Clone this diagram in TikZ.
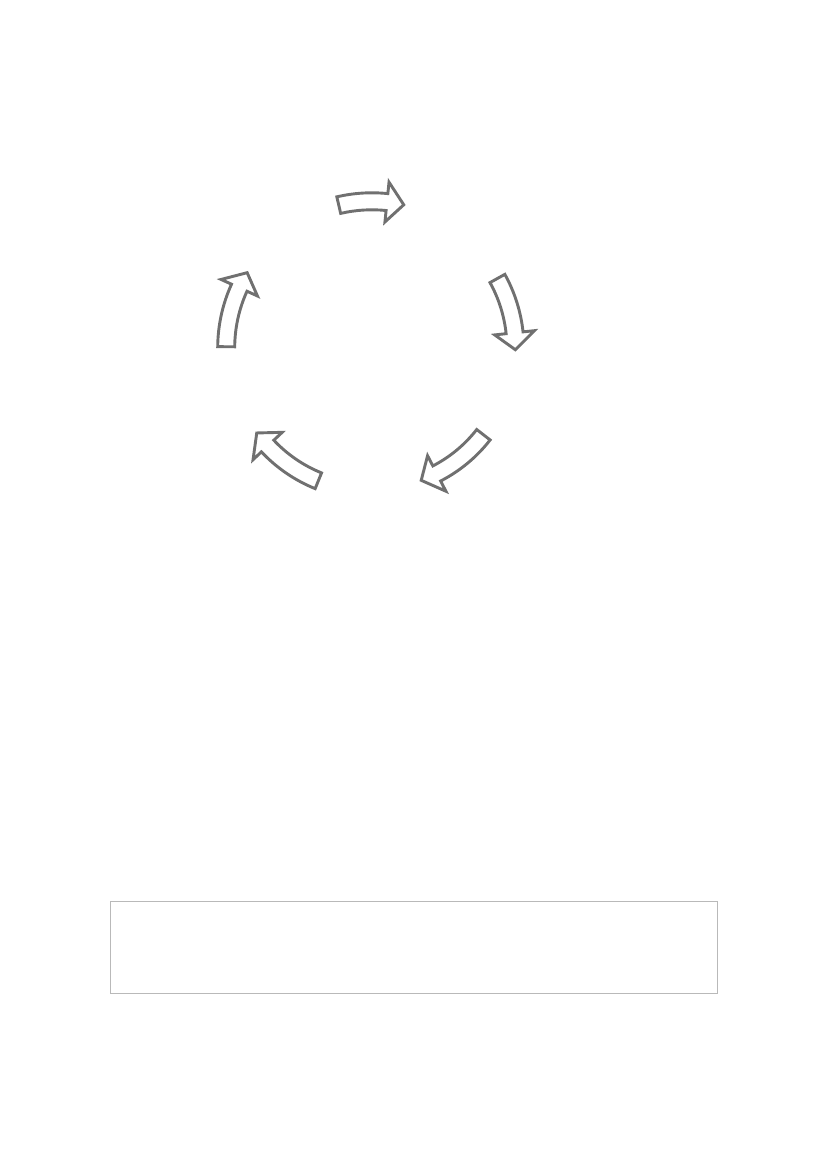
\documentclass[tikz,border=0pt]{standalone}
\definecolor{arrowgray}{RGB}{112,112,112}
\definecolor{boxgray}{RGB}{185,185,185}
\begin{document}
\begin{tikzpicture}[x=0.2539mm, y=0.2539mm]
	\tikzset{
		cyclearrow/.style={draw=arrowgray, line width=2.1pt, fill=white},
		boxline/.style={draw=boxgray, line width=0.7pt}
	}
	\def\shaft{8.5}
	\def\head{20}
	
	% Page
	\useasboundingbox (-372,348) rectangle (455,-821);
	
	% Arrows round the cycle
	\foreach \tail/\tip/\rad [count=\i] in {103.1/77.5/146.7, 29.0/-0.7/143.4, -37.9/-69.6/141.2, -112.0/-143.6/143.2, 179.5/148.9/145.8}{
		\pgfmathsetmacro{\neck}{\tip + 17/\rad*180/pi}
		\draw [cyclearrow]
		      ({\tail}:{\rad+\shaft})
		      arc [start angle=\tail, end angle=\neck, radius=\rad+\shaft]
		   -- ({\neck}:{\rad+\head})
		   -- ({\tip}:{\rad}) coordinate (tip \i)
		   -- ({\neck}:{\rad-\head})
		   -- ({\neck}:{\rad-\shaft})
		      arc [start angle=\neck, end angle=\tail, radius=\rad-\shaft]
		   -- cycle;
	}
	
	% Empty frame below
	\draw [boxline] (-262,-553) rectangle (345,-645);
\end{tikzpicture}
\end{document}
